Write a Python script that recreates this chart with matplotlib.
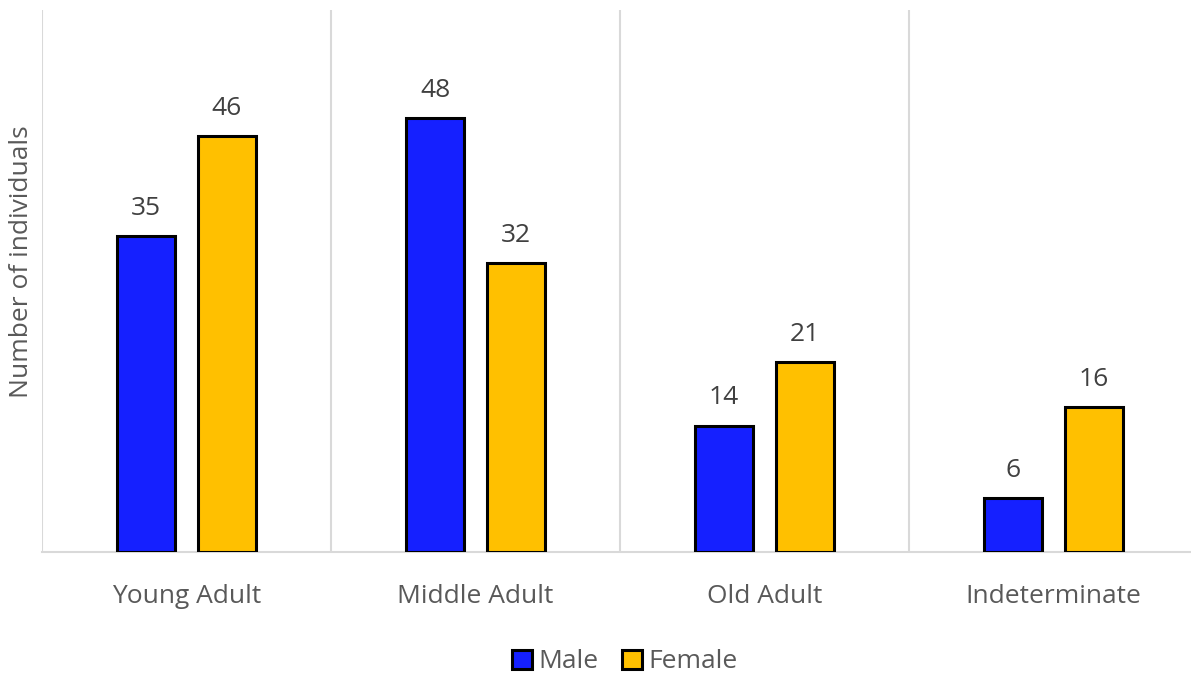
import numpy as np
import matplotlib.pyplot as plt
from matplotlib.patches import Patch

plt.rcParams['font.family'] = ['Open Sans', 'DejaVu Sans']

# Age groups and counts by sex
categories = ['Young Adult', 'Middle Adult', 'Old Adult', 'Indeterminate']
male = [35, 48, 14, 6]
female = [46, 32, 21, 16]

MALE_COLOR = '#1520FF'
FEMALE_COLOR = '#FFC000'
GRID_COLOR = '#D9D9D9'
TEXT_COLOR = '#595959'
LABEL_COLOR = '#404040'
FS = 19

fig = plt.figure(figsize=(11.91, 6.75), dpi=100)
ax = fig.add_axes([42 / 1191, 123 / 675, 1156 / 1191, 542 / 675])

x = np.arange(len(categories))
w = 0.2
off = 0.14

bars_m = ax.bar(x - off, male, w, color=MALE_COLOR, edgecolor='black', linewidth=2.2, zorder=3)
bars_f = ax.bar(x + off, female, w, color=FEMALE_COLOR, edgecolor='black', linewidth=2.2, zorder=3)

for bars, vals in ((bars_m, male), (bars_f, female)):
    for bar, v in zip(bars, vals):
        ax.annotate(str(v), (bar.get_x() + bar.get_width() / 2, v),
                    xytext=(0, 11), textcoords='offset points',
                    ha='center', va='bottom', fontsize=FS, color=LABEL_COLOR)

ax.set_xlim(-0.5, len(categories) - 0.5)
ax.set_ylim(0, 60)

# separators between categories
for b in np.arange(-0.5, len(categories), 1.0):
    ax.axvline(b, color=GRID_COLOR, linewidth=1.5, zorder=1)

for side in ('top', 'right', 'left'):
    ax.spines[side].set_visible(False)
ax.spines['bottom'].set_color(GRID_COLOR)
ax.spines['bottom'].set_linewidth(1.5)

ax.set_xticks(x)
ax.set_xticklabels(categories, fontsize=FS, color=TEXT_COLOR)
ax.tick_params(axis='x', length=0, pad=23)
ax.set_yticks([])
ax.set_ylabel('Number of individuals', fontsize=FS, color=TEXT_COLOR)
ax.yaxis.set_label_coords(-0.007, 0.535)

handles = [Patch(facecolor=MALE_COLOR, edgecolor='black', linewidth=2.2, label='Male'),
           Patch(facecolor=FEMALE_COLOR, edgecolor='black', linewidth=2.2, label='Female')]
leg = fig.legend(handles=handles, loc='center', bbox_to_anchor=(625 / 1191, 1 - 662 / 675),
                 ncol=2, frameon=False, fontsize=FS, handlelength=0.75, handleheight=0.75,
                 handletextpad=0.25, columnspacing=0.9)
for t in leg.get_texts():
    t.set_color(TEXT_COLOR)

fig.savefig('out.png', dpi=100)
